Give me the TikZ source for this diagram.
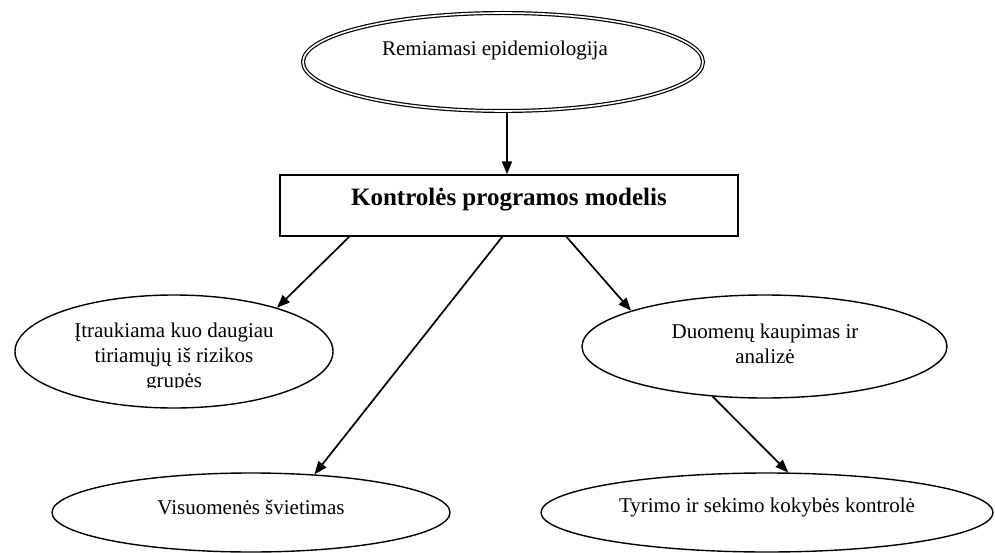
\documentclass[tikz,border=0pt]{standalone}
\usepackage{fontspec}
\setmainfont{Liberation Serif}
\usetikzlibrary{arrows.meta,calc,shapes.geometric}
\begin{document}
\begin{tikzpicture}[x=1pt,y=-1pt,
  ell/.style={draw, ellipse, line width=1.4pt, inner sep=0pt},
  lbl/.style={inner sep=0pt, font=\fontsize{21}{25}\selectfont, align=center},
  arr/.style={line width=1.7pt, -{Triangle[length=13pt,width=10pt]}},
]
\useasboundingbox (0,0) rectangle (995,553);
% top ellipse (double line)
\node[ell, double, double distance=1.6pt, line width=1.2pt, minimum width=400pt, minimum height=98pt] (e0) at (503,62) {};
\node[lbl] (t0) at (495,50) {Remiamasi epidemiologija};
% central box
\node[draw, line width=1.3pt, minimum width=458pt, minimum height=61pt, inner sep=0pt] (box) at (509,205.5) {};
\node[lbl, font=\fontsize{25}{30}\selectfont\bfseries] (tbox) at (509,200) {Kontrolės programos modelis};
% second row ellipses
\node[ell, minimum width=318pt, minimum height=113pt] (e1) at (174,351.5) {};
\begin{scope}
\clip (0,280) rectangle (400,387);
\node[lbl] (t1) at (174,357.5) {Įtraukiama kuo daugiau\\tiriamųjų iš rizikos\\grupės};
\end{scope}
\node[ell, minimum width=365pt, minimum height=103pt] (e2) at (764.5,346.5) {};
\node[lbl] (t2) at (765,343.5) {Duomenų kaupimas ir\\analizė};
% bottom row ellipses
\node[ell, minimum width=398pt, minimum height=79pt] (e3) at (251,512.5) {};
\node[lbl] (t3) at (251,507) {Visuomenės švietimas};
\node[ell, minimum width=452pt, minimum height=79pt] (e4) at (767,512.5) {};
\node[lbl] (t4) at (767,507) {Tyrimo ir sekimo kokybės kontrolė};
% connectors
\draw[arr] (e0.south -| 507,0) -- (507,0 |- box.north);
\draw[arr] ($(box.south west)+(70,0)$) -- (e1.23);
\draw[arr] ($(box.south west)+(223,0)$) -- (e3.31);
\draw[arr] ($(box.south west)+(287,0)$) -- (e2.165);
\draw[arr] (e2.224) -- (e4.62);
\end{tikzpicture}
\end{document}
